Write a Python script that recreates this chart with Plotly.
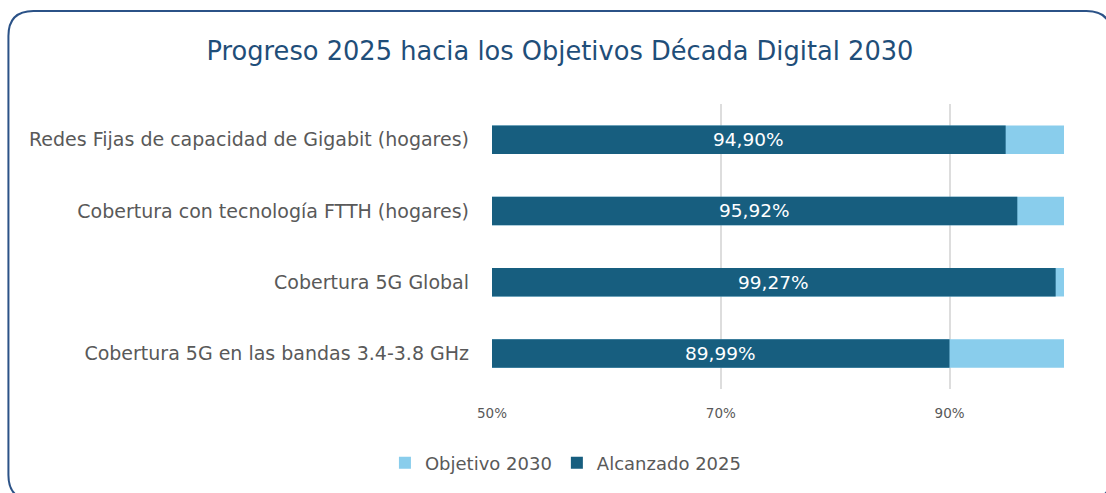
import plotly.graph_objects as go

categories = [
    "Redes Fijas de capacidad de Gigabit (hogares)",
    "Cobertura con tecnología FTTH (hogares)",
    "Cobertura 5G Global",
    "Cobertura 5G en las bandas 3.4-3.8 GHz",
]
alcanzado_2025 = [94.90, 95.92, 99.27, 89.99]
objetivo_2030 = [100, 100, 100, 100]
tick_vals = [50, 70, 90]
tick_text = ["50%", "70%", "90%"]
title_text = "Progreso 2025 hacia los Objetivos Década Digital 2030"

W, H = 1106, 493
L, R, T, B = 492, 1064.5, 104, 389  # plot area pixels

FONT = "DejaVu Sans"
GRAY = "#595959"
DARK = "#175E7F"
LIGHT = "#89CDEC"

fig = go.Figure()
fig.add_trace(go.Bar(
    y=categories, x=objetivo_2030, orientation="h", name="Objetivo 2030",
    marker=dict(color=LIGHT, line=dict(width=0)), width=0.4, hoverinfo="skip",
))
fig.add_trace(go.Bar(
    y=categories, x=alcanzado_2025, orientation="h", name="Alcanzado 2025",
    marker=dict(color=DARK, line=dict(width=0)), width=0.4,
))

for c, v in zip(categories, alcanzado_2025):
    fig.add_annotation(
        x=(50 + v) / 2, y=c, xref="x", yref="y",
        text=f"{v:.2f}%".replace(".", ","), showarrow=False,
        font=dict(family=FONT, size=18.5, color="white"),
    )


def px(xp):
    return (xp - L) / (R - L)


def py(yp):
    return (B - yp) / (B - T)


# rounded border
x0, y0, x1, y1, r = 8, 11, 1112, 500, 25
path = (
    f"M {px(x0)},{py(y0 + r)} "
    f"Q {px(x0)},{py(y0)} {px(x0 + r)},{py(y0)} "
    f"L {px(x1 - r)},{py(y0)} "
    f"Q {px(x1)},{py(y0)} {px(x1)},{py(y0 + r)} "
    f"L {px(x1)},{py(y1 - r)} "
    f"Q {px(x1)},{py(y1)} {px(x1 - r)},{py(y1)} "
    f"L {px(x0 + r)},{py(y1)} "
    f"Q {px(x0)},{py(y1)} {px(x0)},{py(y1 - r)} Z"
)
fig.add_shape(type="path", path=path, xref="paper", yref="paper",
              line=dict(color="#2B5287", width=2), layer="below")

fig.update_layout(
    width=W, height=H,
    margin=dict(l=L, r=W - R, t=T, b=H - B, autoexpand=False),
    paper_bgcolor="white", plot_bgcolor="white",
    barmode="overlay",
    title=dict(text=title_text, x=560 / W, xanchor="center", xref="container",
               y=1 - 51 / H, yanchor="middle", yref="container",
               font=dict(family=FONT, size=25.7, color="#1F4E79")),
    showlegend=True,
    legend=dict(orientation="h", x=px(566), xanchor="center",
                y=py(463), yanchor="middle", traceorder="normal",
                font=dict(family=FONT, size=18, color=GRAY),
                itemwidth=30),
    xaxis=dict(range=[50, 100], tickvals=tick_vals, ticktext=tick_text,
               showgrid=True, gridcolor="#DDDDDD", gridwidth=1.5,
               zeroline=False, showline=False,
               tickfont=dict(family=FONT, size=13.5, color=GRAY),
               ticklabelstandoff=14),
    yaxis=dict(autorange="reversed", showgrid=False, showline=False,
               tickfont=dict(family=FONT, size=19, color=GRAY),
               ticklabelstandoff=22),
)
fig.update_xaxes(automargin=False)
fig.update_yaxes(automargin=False)

fig.write_html("out.html", config={"displayModeBar": False},
               post_script="document.body.style.margin='0';")
